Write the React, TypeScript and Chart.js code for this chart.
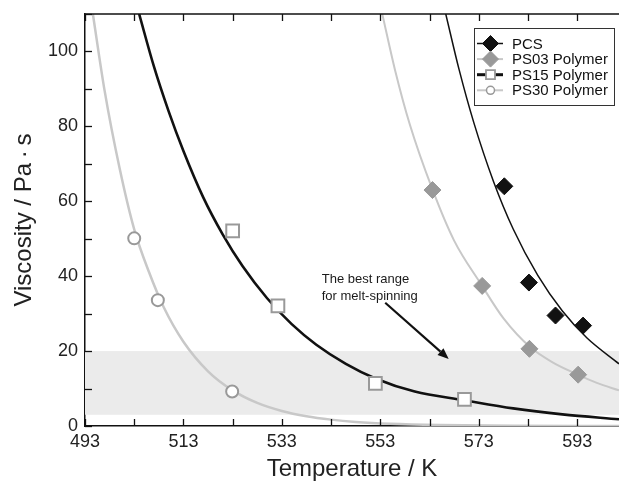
import React, { useEffect, useRef } from "react";
import { Chart, registerables } from "chart.js";
Chart.register(...registerables);

const FONT = "'Liberation Sans', Arial, Helvetica, sans-serif";

// ---- Measured points ----
const seriesNames = ["PCS", "PS03 Polymer", "PS15 Polymer", "PS30 Polymer"];
const pcsT = [578.2, 583.2, 588.6, 594.2];
const pcsV = [64, 38.3, 29.5, 26.8];
const ps03T = [563.6, 573.7, 583.3, 593.2];
const ps03V = [63, 37.4, 20.6, 13.7];
const ps15T = [523, 532.2, 552, 570.1];
const ps15V = [52.1, 32.1, 11.4, 7.1];
const ps30T = [503, 507.8, 522.9];
const ps30V = [50.1, 33.6, 9.2];

// ---- Fitted curves ----
const pcsFitT = [566.3, 569, 572, 576, 580, 585, 590, 595, 601.5];
const pcsFitV = [110, 95.2, 81, 65.3, 52.6, 40.2, 30.7, 23.5, 16.6];
const ps03FitT = [553.4, 556, 559, 563.5, 568, 573.5, 578, 583.5, 588, 593, 597, 601.5];
const ps03FitV = [110, 95, 80.5, 63.5, 49.5, 37.8, 28.8, 21, 17, 13.8, 11.5, 9.5];
const ps15FitT = [504, 507, 510, 513, 517, 521, 525, 530, 535, 540, 546, 552, 560, 570, 580, 590, 601.5];
const ps15FitV = [110, 96, 84, 73.4, 61.1, 51.1, 42.7, 34.1, 27.2, 21.7, 16.6, 12.7, 9.2, 6.9, 4.7, 3.1, 1.8];
const ps30FitT = [494.6, 497, 500, 503, 506, 509, 513, 518, 523, 528, 533, 538, 543, 548, 555, 565, 580, 601.5];
const ps30FitV = [110, 89.4, 69, 52.5, 41.1, 31.7, 22.5, 14.6, 9.5, 6.15, 4, 2.6, 1.7, 1.1, 0.6, 0.25, 0.05, 0];

// ---- Axes ----
const xMajorTicks = [493, 513, 533, 553, 573, 593];
const xMinorTicks = [503, 523, 543, 563, 583];
const yMajorTicks = [0, 20, 40, 60, 80, 100];
const yMinorTicks = [10, 30, 50, 70, 90, 110];
const xRange = [493, 601.5];
const yRange = [0, 110];

// ---- Annotation ----
const bestRange = [3, 20];
const noteLines = ["The best range", "for melt-spinning"];

const zip = (a: number[], b: number[]) => a.map((v, i) => ({ x: v, y: b[i] }));

const GREY_LINE = "#c8c8c8";
const GREY_MARK = "#999999";

function drawMarker(ctx: CanvasRenderingContext2D, kind: string, cx: number, cy: number, r: number, fill: string, stroke: string, lw: number) {
  ctx.save();
  ctx.beginPath();
  if (kind === "diamond") {
    ctx.moveTo(cx, cy - r);
    ctx.lineTo(cx + r, cy);
    ctx.lineTo(cx, cy + r);
    ctx.lineTo(cx - r, cy);
    ctx.closePath();
  } else if (kind === "square") {
    ctx.rect(cx - r, cy - r, 2 * r, 2 * r);
  } else {
    ctx.arc(cx, cy, r, 0, Math.PI * 2);
  }
  ctx.fillStyle = fill;
  ctx.fill();
  ctx.lineWidth = lw;
  ctx.strokeStyle = stroke;
  ctx.stroke();
  ctx.restore();
}

const decorPlugin = {
  id: "decor",
  beforeDatasetsDraw(chart: any) {
    const { ctx, chartArea: a, scales } = chart;
    const y = scales.y;
    const yTop = y.getPixelForValue(bestRange[1]);
    const yBot = y.getPixelForValue(bestRange[0]);
    ctx.save();
    ctx.fillStyle = "#ebebeb";
    ctx.fillRect(a.left, yTop, a.right - a.left, yBot - yTop);
    ctx.restore();
  },
  afterDatasetsDraw(chart: any) {
    const { ctx, chartArea: a, scales } = chart;
    const x = scales.x;
    const y = scales.y;
    ctx.save();
    ctx.strokeStyle = "#111";
    ctx.lineWidth = 1.5;
    ctx.beginPath();
    ctx.moveTo(a.left, a.top);
    ctx.lineTo(a.right, a.top);
    ctx.stroke();
    const tl = 7;
    ctx.lineWidth = 1.3;
    [...xMajorTicks, ...xMinorTicks].forEach((v) => {
      const px = Math.round(x.getPixelForValue(v)) + 0.5;
      ctx.beginPath();
      ctx.moveTo(px, a.bottom);
      ctx.lineTo(px, a.bottom - tl);
      ctx.moveTo(px, a.top);
      ctx.lineTo(px, a.top + tl);
      ctx.stroke();
    });
    [...yMajorTicks, ...yMinorTicks].forEach((v) => {
      const py = Math.round(y.getPixelForValue(v)) + 0.5;
      ctx.beginPath();
      ctx.moveTo(a.left, py);
      ctx.lineTo(a.left + tl, py);
      ctx.stroke();
    });
    ctx.restore();
  },
  afterDraw(chart: any) {
    const { ctx, chartArea: a, scales } = chart;
    const x = scales.x;
    const y = scales.y;
    ctx.save();
    ctx.fillStyle = "#1a1a1a";
    ctx.font = `13px ${FONT}`;
    ctx.textBaseline = "middle";
    ctx.textAlign = "left";
    const tx = x.getPixelForValue(541.1);
    ctx.fillText(noteLines[0], tx, y.getPixelForValue(39.2));
    ctx.fillText(noteLines[1], tx, y.getPixelForValue(34.7));
    const x0 = x.getPixelForValue(554.0), y0 = y.getPixelForValue(32.9);
    const x1 = x.getPixelForValue(566.9), y1 = y.getPixelForValue(17.9);
    const ang = Math.atan2(y1 - y0, x1 - x0);
    const hl = 11, hw = 4.5;
    const bx = x1 - hl * Math.cos(ang), by = y1 - hl * Math.sin(ang);
    ctx.strokeStyle = "#111";
    ctx.lineWidth = 2.2;
    ctx.beginPath();
    ctx.moveTo(x0, y0);
    ctx.lineTo(bx, by);
    ctx.stroke();
    ctx.fillStyle = "#111";
    ctx.beginPath();
    ctx.moveTo(x1, y1);
    ctx.lineTo(bx + hw * Math.sin(ang), by - hw * Math.cos(ang));
    ctx.lineTo(bx - hw * Math.sin(ang), by + hw * Math.cos(ang));
    ctx.closePath();
    ctx.fill();
    ctx.restore();

    const bl = a.right - 145, bt = a.top + 14, bw = 140, bh = 77;
    ctx.save();
    ctx.fillStyle = "#fff";
    ctx.fillRect(bl, bt, bw, bh);
    ctx.strokeStyle = "#333";
    ctx.lineWidth = 1;
    ctx.strokeRect(bl + 0.5, bt + 0.5, bw, bh);
    const rows = [
      { line: "#111", lw: 1.5, kind: "diamond", r: 8, fill: "#111", stroke: "#111", slw: 1 },
      { line: GREY_LINE, lw: 2, kind: "diamond", r: 8, fill: GREY_MARK, stroke: GREY_MARK, slw: 1 },
      { line: "#111", lw: 3, kind: "square", r: 4.5, fill: "#fff", stroke: GREY_MARK, slw: 1.8 },
      { line: GREY_LINE, lw: 2, kind: "circle", r: 4, fill: "#fff", stroke: GREY_MARK, slw: 1.5 },
    ];
    ctx.font = `15px ${FONT}`;
    ctx.textBaseline = "middle";
    ctx.textAlign = "left";
    rows.forEach((r, i) => {
      const cy = bt + 15.5 + i * 15.6;
      ctx.strokeStyle = r.line;
      ctx.lineWidth = r.lw;
      ctx.beginPath();
      ctx.moveTo(bl + 3, cy);
      ctx.lineTo(bl + 29, cy);
      ctx.stroke();
      drawMarker(ctx, r.kind, bl + 16.5, cy, r.r, r.fill, r.stroke, r.slw);
      ctx.fillStyle = "#111";
      ctx.fillText(seriesNames[i], bl + 38, cy + 1);
    });
    ctx.restore();
  },
};

export default function App() {
  const ref = useRef<HTMLCanvasElement>(null);
  useEffect(() => {
    document.body.style.margin = "0";
    document.body.style.overflow = "hidden";
    Chart.defaults.font.family = FONT;
    const fitLine = (data: any[], color: string, width: number) => ({
      type: "line" as const,
      data,
      borderColor: color,
      borderWidth: width,
      pointRadius: 0,
      fill: false,
      cubicInterpolationMode: "monotone" as const,
      order: 5,
    });
    const marks = (data: any[], style: string, radius: number, bg: string, border: string, bw: number) => ({
      type: "line" as const,
      data,
      showLine: false,
      pointStyle: style,
      pointRadius: radius,
      pointBackgroundColor: bg,
      pointBorderColor: border,
      pointBorderWidth: bw,
      order: 1,
    });
    const chart = new Chart(ref.current as HTMLCanvasElement, {
      type: "line",
      data: {
        datasets: [
          fitLine(zip(ps30FitT, ps30FitV), GREY_LINE, 2.5),
          fitLine(zip(ps15FitT, ps15FitV), "#111", 2.6),
          fitLine(zip(ps03FitT, ps03FitV), GREY_LINE, 2),
          fitLine(zip(pcsFitT, pcsFitV), "#111", 1.5),
          marks(zip(ps30T, ps30V), "circle", 6, "#fff", GREY_MARK, 2),
          marks(zip(ps15T, ps15V), "rect", 9, "#fff", GREY_MARK, 2),
          marks(zip(ps03T, ps03V), "rectRot", 8.5, GREY_MARK, GREY_MARK, 1),
          marks(zip(pcsT, pcsV), "rectRot", 8.5, "#111", "#111", 1),
        ] as any,
      },
      options: {
        responsive: false,
        animation: false,
        layout: { autoPadding: false, padding: { top: 14, right: 0, left: 0, bottom: 0 } },
        plugins: { legend: { display: false }, tooltip: { enabled: false } },
        scales: {
          x: {
            type: "linear",
            min: xRange[0],
            max: xRange[1],
            afterBuildTicks: (s: any) => {
              s.ticks = [...xMajorTicks, ...xMinorTicks].sort((a, b) => a - b).map((v) => ({ value: v }));
            },
            afterFit: (s: any) => {
              s.height = 56;
              s.paddingLeft = 0;
              s.paddingRight = 0;
            },
            ticks: {
              autoSkip: false,
              maxRotation: 0,
              padding: 5,
              color: "#222",
              font: { size: 18, family: FONT },
              callback: (v: any) => (xMajorTicks.includes(Number(v)) ? String(v) : ""),
            },
            grid: { display: true, drawOnChartArea: false, drawTicks: false },
            border: { display: true, color: "#111", width: 1.5 },
            title: {
              display: true,
              text: "Temperature / K",
              color: "#222",
              font: { size: 24, family: FONT },
              padding: { top: 0, bottom: -2 },
            },
          },
          y: {
            type: "linear",
            min: yRange[0],
            max: yRange[1],
            afterBuildTicks: (s: any) => {
              s.ticks = [...yMajorTicks, ...yMinorTicks].sort((a, b) => a - b).map((v) => ({ value: v }));
            },
            afterFit: (s: any) => {
              s.width = 85;
              s.paddingTop = 0;
              s.paddingBottom = 0;
            },
            ticks: {
              autoSkip: false,
              padding: 7,
              color: "#222",
              font: { size: 18, family: FONT },
              callback: (v: any) => (yMajorTicks.includes(Number(v)) ? String(v) : ""),
            },
            grid: { display: true, drawOnChartArea: false, drawTicks: false },
            border: { display: true, color: "#111", width: 1.5 },
            title: {
              display: true,
              text: "Viscosity / Pa\u2009·\u2009s",
              color: "#222",
              font: { size: 24, family: FONT },
              padding: { top: 10, bottom: 0 },
            },
          },
        },
      },
      plugins: [decorPlugin],
    });
    return () => chart.destroy();
  }, []);
  return (
    <div style={{ position: "absolute", left: 0, top: 0, width: 619, height: 482 }}>
      <canvas ref={ref} width={619} height={482} style={{ width: 619, height: 482, display: "block" }} />
    </div>
  );
}
